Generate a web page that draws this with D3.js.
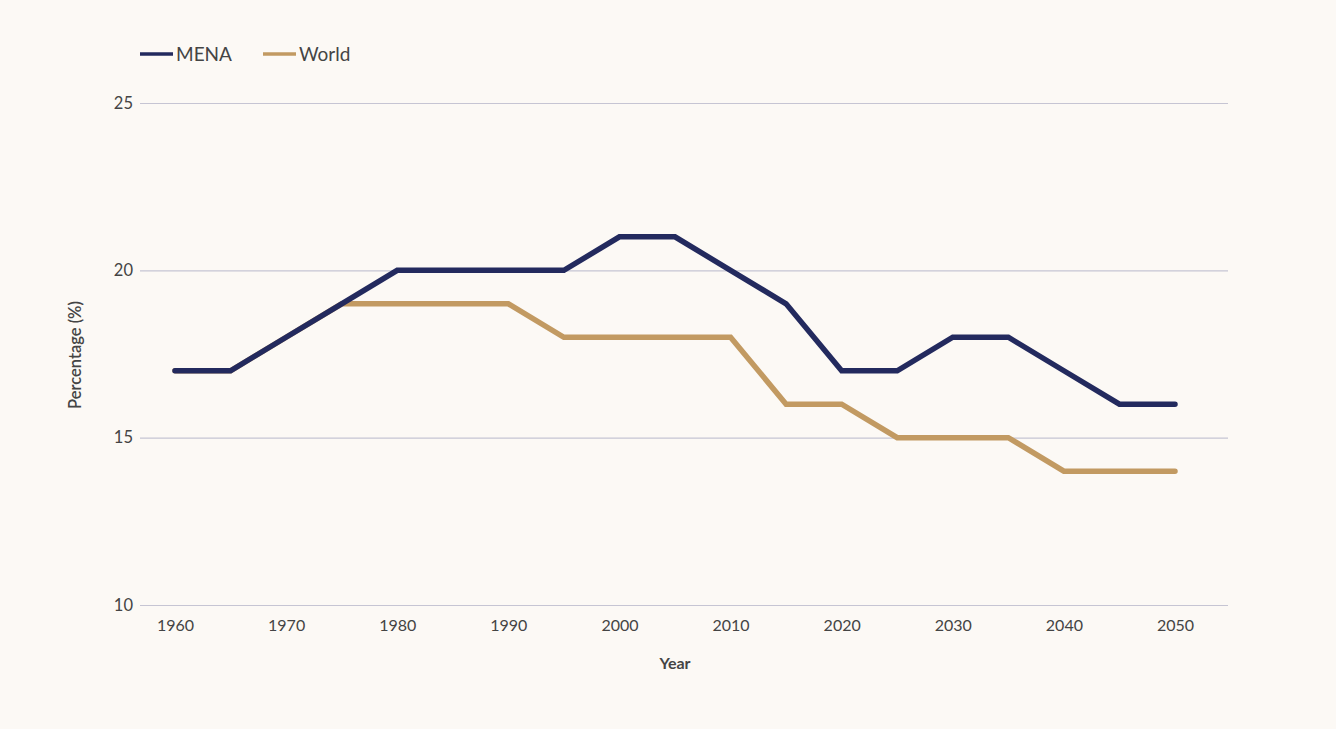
<!DOCTYPE html>
<html><head><meta charset="utf-8">
<script src="https://cdn.jsdelivr.net/npm/d3@7"></script>
<style>
html,body{margin:0;padding:0;background:#fcf9f5;}
svg{display:block;font-family:Lato, "Open Sans", sans-serif;}
</style></head>
<body><svg id="c" width="1336" height="729"></svg>
<script>
const years = [1960,1965,1970,1975,1980,1985,1990,1995,2000,2005,2010,2015,2020,2025,2030,2035,2040,2045,2050];
const mena  = [17,17,18,19,20,20,20,20,21,21,20,19,17,17,18,18,17,16,16];
const world = [17,17,18,19,19,19,19,18,18,18,18,16,16,15,15,15,14,14,14];
const xTicks = [1960,1970,1980,1990,2000,2010,2020,2030,2040,2050];
const yTicks = [10,15,20,25];
const seriesNames = ["MENA","World"];
const colors = {MENA:"#232a5e", World:"#c29a62"};

const svg = d3.select("#c");
svg.append("rect").attr("width",1336).attr("height",729).attr("fill","#fcf9f5");

const x = d3.scaleLinear().domain([1960,2050]).range([175,1175]);
const y = d3.scaleLinear().domain([10,25]).range([605,103]);
const gridL = 140, gridR = 1228;

// y axis grid + labels
const yAxis = d3.axisLeft(y).tickValues(yTicks).tickSize(0).tickPadding(7);
const gy = svg.append("g").attr("transform",`translate(${gridL},0)`).call(yAxis);
gy.select(".domain").remove();
gy.selectAll(".tick line").attr("x2", gridR-gridL).attr("stroke","#c6c5d3").attr("stroke-width",1.2);
gy.selectAll(".tick text").attr("font-size",16.5).attr("fill","#444").attr("font-family","Lato, sans-serif");

// x axis
const xAxis = d3.axisBottom(x).tickValues(xTicks).tickFormat(d3.format("d")).tickSize(0).tickPadding(15);
const gx = svg.append("g").attr("transform",`translate(0,${y(10)})`).call(xAxis);
gx.select(".domain").remove();
gx.selectAll(".tick text").attr("font-size",16).attr("fill","#444").attr("font-family","Lato, sans-serif");

// axis titles
svg.append("text").attr("x",675).attr("y",669).attr("text-anchor","middle")
  .attr("font-size",16).attr("font-weight",700).attr("fill","#444").text("Year");
svg.append("text").attr("transform","translate(81,355) rotate(-90)").attr("text-anchor","middle")
  .attr("font-size",16.5).attr("font-weight",600).attr("fill","#444").text("Percentage (%)");

// lines
const line = d3.line().x((d,i)=>x(years[i])).y(d=>y(d));
const data = {MENA:mena, World:world};
["World","MENA"].forEach(k=>{
  svg.append("path").datum(data[k]).attr("d",line).attr("fill","none")
    .attr("stroke",colors[k]).attr("stroke-width",5.5).attr("stroke-linejoin","miter")
    .attr("stroke-linecap","round");
});

// legend
const legendX = [140, 263];
seriesNames.forEach((k,i)=>{
  const g = svg.append("g").attr("transform",`translate(${legendX[i]},54)`);
  g.append("line").attr("x1",0).attr("x2",33).attr("stroke",colors[k]).attr("stroke-width",3.5);
  g.append("text").attr("x",36).attr("y",7).attr("font-size",19).attr("fill","#444").text(k);
});
</script></body></html>
